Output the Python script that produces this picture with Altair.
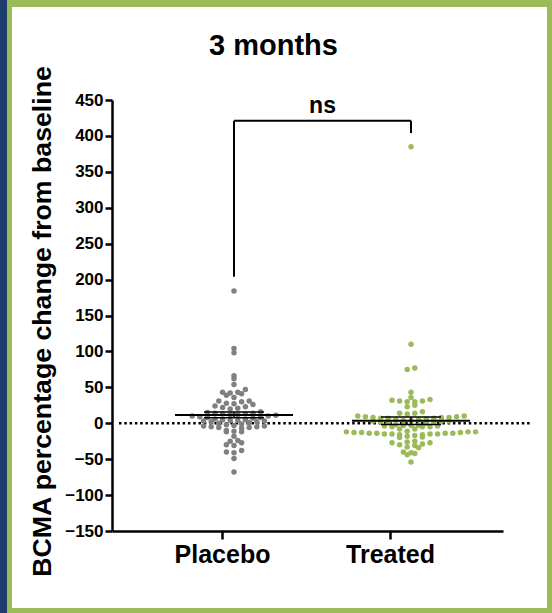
import altair as alt
import pandas as pd
import numpy as np

# ---------------- data ----------------
groups = ["Placebo", "Treated"]
placebo = [184, 104, 98, 66, 62, 54, 47, 43, 43, 42, 41, 39, 36, 31, 31, 30, 28, 27,
           26, 24, 23, 22, 21, 20, 16, 15, 14, 14, 13, 13, 12, 12, 11, 10, 10, 9, 8, 8,
           7, 6, 5, 5, 4, 4, 3, 3, 2, 2, 1, 0, -1, -2, -3, -4, -4, -5, -5, -6, -6, -7,
           -10, -11, -12, -12, -18, -24, -25, -27, -30, -31, -38, -40, -41, -49, -68]
treated = [385, 110, 77, 75, 43, 36, 33, 32, 31, 31, 30, 30, 25, 23, 16, 14, 14, 13,
           10, 10, 9, 9, 8, 8, 8, 7, 7, 7, 6, 5, 5, 4, 4, 3, 3, 3, 2, 2, 1, 0,
           -2, -3, -3, -3, -4, -4, -5, -5, -5, -8, -8, -11, -12, -12, -12, -13, -13, -13,
           -14, -14, -14, -14, -15, -15, -15, -15, -16, -16, -17, -18, -19, -20,
           -25, -26, -27, -27, -29, -30, -31, -33, -34, -40, -41, -42, -44, -54]
y_ticks = list(range(-150, 451, 50))
bracket_ends = [204, 404]      # bottom of the left / right bracket legs
bracket_top = 421
sig_label = "ns"
chart_title = "3 months"
y_title = "BCMA percentage change from baseline"

# ---------------- layout ----------------
W, H = 391, 431
PAD = {"left": 112, "top": 100, "right": 49, "bottom": 82}
x_dom = [0.3452, 2.6726]
y_dom = [-150, 450]
px_x = W / (x_dom[1] - x_dom[0])
px_y = H / (y_dom[1] - y_dom[0])
centers = [1.0714, 2.125]     # where the point clouds sit
tick_pos = [1, 2]             # where the axis ticks sit
colors = ["#808080", "#9BBB59"]
FONT = "Liberation Sans"


def row_swarm(vals, dy=5.4, dx=7.6):
    """GraphPad-like scatter: bin values into rows of one dot height and
    spread each row horizontally around the group centre."""
    ys = np.array(vals, dtype=float) * px_y
    bins = np.round(ys / dy).astype(int)
    offs = np.zeros(len(vals))
    for b in np.unique(bins):
        idx = np.where(bins == b)[0]
        idx = idx[np.argsort(ys[idx])]
        n = len(idx)
        slots = (np.arange(n) - (n - 1) / 2.0) * dx
        order = np.argsort(np.abs(slots), kind="stable")
        for k, i in zip(order, idx):
            offs[i] = slots[k]
    return offs


rows = []
stats = []
for g, vals, c in zip(groups, [placebo, treated], centers):
    offs = row_swarm(vals)
    for v, o in zip(vals, offs):
        rows.append({"group": g, "x": c + o / px_x, "y": v})
    arr = np.array(vals, dtype=float)
    m = arr.mean()
    sem = arr.std(ddof=1) / np.sqrt(len(arr))
    stats.append((c, m, sem))
pts = pd.DataFrame(rows)

mean_df = pd.DataFrame([{"x": c - 59 / px_x, "x2": c + 59 / px_x, "y": m} for c, m, s in stats])
cap_df = pd.DataFrame(
    [{"x": c - 30 / px_x, "x2": c + 30 / px_x, "y": m + s} for c, m, s in stats]
    + [{"x": c - 30 / px_x, "x2": c + 30 / px_x, "y": m - s} for c, m, s in stats])
err_df = pd.DataFrame([{"x": c, "y": m - s, "y2": m + s} for c, m, s in stats])

br_v = pd.DataFrame([{"x": centers[0], "y": bracket_ends[0], "y2": bracket_top},
                     {"x": centers[1], "y": bracket_ends[1], "y2": bracket_top}])
br_h = pd.DataFrame([{"x": centers[0], "x2": centers[1], "y": bracket_top}])
ns_df = pd.DataFrame([{"x": (centers[0] + centers[1]) / 2, "y": 432, "t": sig_label}])

xscale = alt.Scale(domain=x_dom, nice=False, zero=False)
yscale = alt.Scale(domain=y_dom, nice=False, zero=False)
xaxis = alt.Axis(values=tick_pos, labelExpr="datum.value == 1 ? 'Placebo' : 'Treated'",
                 title="", grid=False, domainColor="black", domainWidth=2.5,
                 tickColor="black", tickWidth=2.5, tickSize=8, labelPadding=3,
                 labelFont=FONT, labelFontSize=25, labelFontWeight="bold",
                 labelColor="black", zindex=2)
yaxis = alt.Axis(values=y_ticks, title=y_title, grid=False, domainColor="black",
                 domainWidth=2.5, tickColor="black", tickWidth=2.5, tickSize=7,
                 labelPadding=2, labelFont=FONT, labelFontSize=17, labelFontWeight="bold",
                 labelColor="black", titleFont=FONT, titleFontSize=26.7,
                 titleFontWeight="bold", titleColor="black", titleAngle=270,
                 titleBaseline="alphabetic", titleX=-62, titleY=221, titleAlign="center",
                 zindex=2)


def X(f="x"):
    return alt.X(f + ":Q", scale=xscale, axis=xaxis)


def Y(f="y"):
    return alt.Y(f + ":Q", scale=yscale, axis=yaxis)


one = pd.DataFrame({"a": [0]})
white = alt.Chart(one).mark_rect(color="white").encode(
    x=alt.value(12 - PAD["left"]), x2=alt.value(547 - PAD["left"]),
    y=alt.value(7 - PAD["top"]), y2=alt.value(608 - PAD["top"]))
blue = alt.Chart(one).mark_rect(color="#1E3D6E").encode(
    x=alt.value(-PAD["left"]), x2=alt.value(7 - PAD["left"]),
    y=alt.value(-PAD["top"]), y2=alt.value(613 - PAD["top"]))

zero_df = pd.DataFrame({"y": [0]})
zero = alt.Chart(zero_df).mark_rule(color="black", strokeWidth=2.5, strokeDash=[2.5, 2.8]).encode(
    y=Y(), x=alt.value(7), x2=alt.value(418))

points = alt.Chart(pts).mark_circle(size=30, opacity=1).encode(
    x=X(), y=Y(),
    color=alt.Color("group:N", scale=alt.Scale(domain=groups, range=colors), legend=None))

mean_l = alt.Chart(mean_df).mark_rule(color="black", strokeWidth=2).encode(x=X(), x2="x2:Q", y=Y())
cap_l = alt.Chart(cap_df).mark_rule(color="black", strokeWidth=1.5).encode(x=X(), x2="x2:Q", y=Y())
err_l = alt.Chart(err_df).mark_rule(color="black", strokeWidth=1.5).encode(x=X(), y=Y(), y2="y2:Q")

brv = alt.Chart(br_v).mark_rule(color="black", strokeWidth=2).encode(x=X(), y=Y(), y2="y2:Q")
brh = alt.Chart(br_h).mark_rule(color="black", strokeWidth=2).encode(x=X(), x2="x2:Q", y=Y())
ns = alt.Chart(ns_df).mark_text(font=FONT, fontSize=23, fontWeight="bold", color="black",
                                baseline="alphabetic", align="center").encode(
    x=X(), y=Y(), text="t:N")

title_df = pd.DataFrame({"t": [chart_title]})
title = alt.Chart(title_df).mark_text(font=FONT, fontSize=29, fontWeight="bold", color="black",
                                      baseline="alphabetic", align="center").encode(
    x=alt.value(273.5 - PAD["left"]), y=alt.value(55 - PAD["top"]), text="t:N")

chart = alt.layer(white, blue, zero, points, err_l, cap_l, mean_l, brv, brh, ns, title).properties(
    width=W, height=H,
    autosize=alt.AutoSizeParams(type="none"),
    padding=PAD,
    background="#9BBB59",
).configure_view(strokeWidth=0)

chart.save("out.html", embed_options={"renderer": "svg", "actions": False})
